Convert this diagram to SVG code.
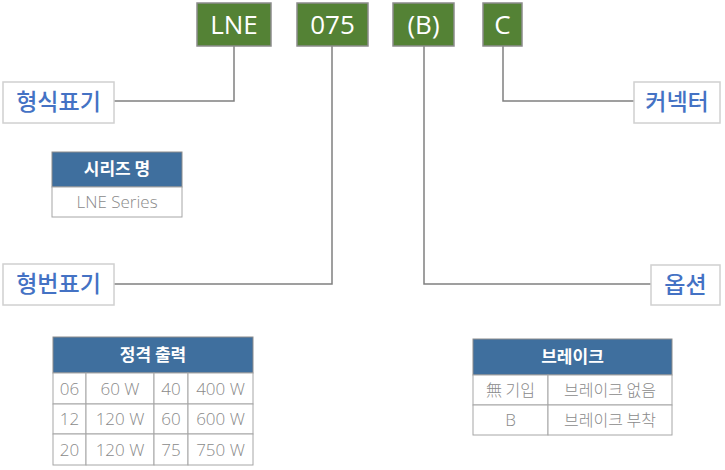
<svg xmlns="http://www.w3.org/2000/svg" width="725" height="470" viewBox="0 0 725 470">
<style>
.code rect{fill:#548235;stroke:#8c8c8c;stroke-width:1.5}
.code text{fill:#fff;font-family:"Open Sans","Noto Sans",sans-serif;font-size:26px;text-anchor:middle}
.lbl rect{fill:#fff;stroke:#d0d0d0;stroke-width:1.5}
.lbl text{fill:#4472c4;font-family:"Noto Sans CJK KR",sans-serif;font-size:23px;font-weight:500;text-anchor:middle}
.hd{fill:#3f6f9e;stroke:#8c8c8c;stroke-width:1}
.ht{fill:#fff;font-family:"Noto Sans CJK KR",sans-serif;font-size:17px;font-weight:700;text-anchor:middle}
.cell{fill:#fff;stroke:#a6a6a6;stroke-width:1}
.ct{fill:#8a8a8a;font-family:"Open Sans","Noto Sans CJK KR",sans-serif;font-size:17px;font-weight:300;text-anchor:middle}
.kt{fill:#8a8a8a;font-family:"Noto Sans CJK KR",sans-serif;font-size:16px;font-weight:300;text-anchor:middle}
#connectors path{fill:none;stroke:#808080;stroke-width:1.5}
</style>
<g id="connectors">
<path d="M234 46 V101 H114"/>
<path d="M332 46 V284 H114"/>
<path d="M424 46 V284 H651"/>
<path d="M503 46 V101 H634"/>
</g>
<g id="code-lne" class="code"><rect x="197" y="3" width="74" height="43"/><text x="234" y="34">LNE</text></g>
<g id="code-075" class="code"><rect x="297" y="3" width="71" height="43"/><text x="332.5" y="34">075</text></g>
<g id="code-b" class="code"><rect x="393" y="3" width="61" height="43"/><text x="423.5" y="34">(B)</text></g>
<g id="code-c" class="code"><rect x="483" y="3" width="39" height="43"/><text x="502.5" y="34">C</text></g>
<g id="label-model" class="lbl"><rect x="3" y="82" width="111" height="41"/><text x="58.5" y="110">형식표기</text></g>
<g id="label-number" class="lbl"><rect x="3" y="264" width="111" height="41"/><text x="58.5" y="292">형번표기</text></g>
<g id="label-connector" class="lbl"><rect x="634" y="82" width="86" height="41"/><text x="677" y="110">커넥터</text></g>
<g id="label-option" class="lbl"><rect x="651" y="265" width="69" height="40"/><text x="685.5" y="293">옵션</text></g>
<g id="table-series">
<rect class="hd" x="52" y="152" width="130" height="35"/>
<text class="ht" x="117" y="175">시리즈 명</text>
<rect class="cell" x="52" y="187" width="130" height="30"/>
<text class="ct" x="117" y="208">LNE Series</text>
</g>
<g id="table-power">
<rect class="hd" x="53" y="337" width="200" height="36"/>
<text class="ht" x="153" y="361">정격 출력</text>
<rect class="cell" x="53" y="373" width="33" height="31"/><rect class="cell" x="86" y="373" width="68" height="31"/><rect class="cell" x="154" y="373" width="34" height="31"/><rect class="cell" x="188" y="373" width="65" height="31"/>
<rect class="cell" x="53" y="404" width="33" height="30"/><rect class="cell" x="86" y="404" width="68" height="30"/><rect class="cell" x="154" y="404" width="34" height="30"/><rect class="cell" x="188" y="404" width="65" height="30"/>
<rect class="cell" x="53" y="434" width="33" height="31"/><rect class="cell" x="86" y="434" width="68" height="31"/><rect class="cell" x="154" y="434" width="34" height="31"/><rect class="cell" x="188" y="434" width="65" height="31"/>
<text class="ct" x="69.5" y="395">06</text><text class="ct" x="120" y="395">60 W</text><text class="ct" x="171" y="395">40</text><text class="ct" x="220.5" y="395">400 W</text>
<text class="ct" x="69.5" y="425">12</text><text class="ct" x="120" y="425">120 W</text><text class="ct" x="171" y="425">60</text><text class="ct" x="220.5" y="425">600 W</text>
<text class="ct" x="69.5" y="456">20</text><text class="ct" x="120" y="456">120 W</text><text class="ct" x="171" y="456">75</text><text class="ct" x="220.5" y="456">750 W</text>
</g>
<g id="table-brake">
<rect class="hd" x="473" y="339" width="199" height="36"/>
<text class="ht" x="572.5" y="363">브레이크</text>
<rect class="cell" x="473" y="375" width="75" height="30"/><rect class="cell" x="548" y="375" width="124" height="30"/>
<rect class="cell" x="473" y="405" width="75" height="30"/><rect class="cell" x="548" y="405" width="124" height="30"/>
<text class="kt" x="510.5" y="396">無 기입</text><text class="kt" x="610" y="396">브레이크 없음</text>
<text class="ct" x="510.5" y="426">B</text><text class="kt" x="610" y="426">브레이크 부착</text>
</g>
</svg>
